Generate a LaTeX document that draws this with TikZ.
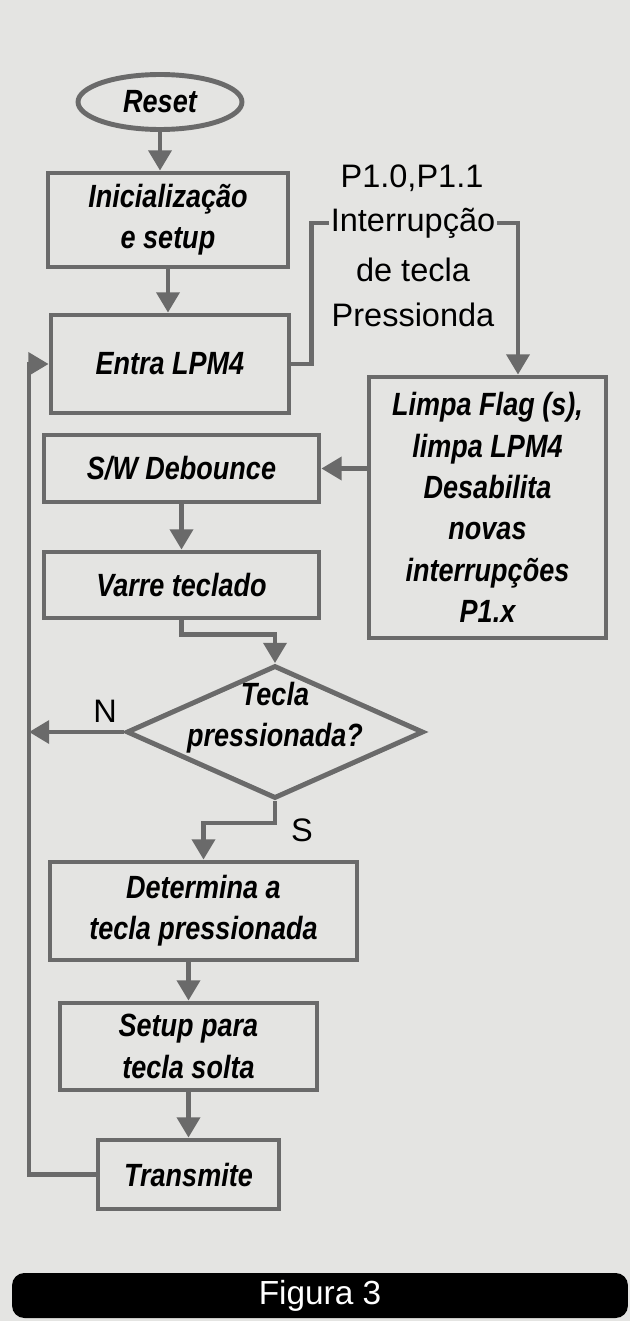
\documentclass[tikz,border=0pt]{standalone}
\usepackage{fontspec}
\setmainfont{Liberation Sans}
\newfontfamily\caixafam{Liberation Sans}[FakeStretch=0.84]
\usepackage{xcolor}
\usepackage{tikz}
\usetikzlibrary{arrows.meta}
\usetikzlibrary{shapes.geometric, calc}

\definecolor{papel}{HTML}{E4E4E2}
\definecolor{traco}{HTML}{6A6A6A}
\newcommand{\caixafont}{\caixafam\fontsize{18.3}{23.5}\selectfont\bfseries\itshape}
\newcommand{\rotulofont}{\fontsize{18.5}{25.6}\selectfont}

\tikzset{
  caixa/.style={draw=traco, line width=2.8pt, rectangle, align=center, font=\caixafont, inner sep=0pt},
  seta/.style={draw=traco, line width=2.4pt, -{Triangle[length=11.5pt,width=13pt]}},
  linha/.style={draw=traco, line width=2.4pt},
  rotulo/.style={font=\rotulofont, inner sep=1pt, align=center},
}

\begin{document}
\begin{tikzpicture}[x=0.02cm, y=-0.02cm]
  \fill[papel] (0,0) rectangle (630,1321);

  % caixas do fluxo
  \node[caixa, ellipse, minimum width=3.28cm, minimum height=1.1cm] (reset) at (160,102) {Reset};
  \node[caixa, minimum width=4.8cm, minimum height=1.88cm] (init) at (168,220) {Inicialização\\e setup};
  \node[caixa, minimum width=4.76cm, minimum height=1.96cm] (entra) at (170,364) {Entra LPM4};
  \node[caixa, minimum width=4.74cm, minimum height=5.22cm] (limpa) at (487.5,507.5)
    {Limpa Flag (s),\\limpa LPM4\\Desabilita\\novas\\interrupções\\P1.x};
  \node[caixa, minimum width=5.5cm, minimum height=1.34cm] (sw) at (181.5,468.5) {S/W Debounce};
  \node[caixa, minimum width=5.5cm, minimum height=1.32cm] (varre) at (181.5,585) {Varre teclado};
  \node[caixa, diamond, minimum width=5.94cm, minimum height=2.66cm,
    label={[font=\caixafont, align=center, yshift=8pt]center:Tecla\\pressionada?}] (tecla) at (275,732) {};
  \node[caixa, minimum width=6.14cm, minimum height=1.96cm] (det) at (203.5,911) {Determina a\\tecla pressionada};
  \node[caixa, minimum width=5.14cm, minimum height=1.74cm] (setup) at (188.5,1046.5) {Setup para\\tecla solta};
  \node[caixa, minimum width=3.62cm, minimum height=1.38cm] (trans) at (188.5,1174.5) {Transmite};

  % interrupcao
  \node[rotulo] (porta) at (412,178) {P1.0,P1.1};
  \node[rotulo] (irq) at (413,223) {Interrupção};
  \node[rotulo] (pressao) at (413,292.5) {de tecla\\Pressionda};

  \coordinate (volta) at (29,364);

  \draw[seta] (reset.south) -- (reset.south |- init.north);
  \draw[seta] (init.south) -- (init.south |- entra.north);
  \draw[linha] (entra.east) -- ++(20,0) |- (irq.west);
  \draw[seta] (irq.east) -| ($(limpa.north)+(30.5,0)$);
  \draw[seta] (limpa.west |- sw.east) -- (sw.east);
  \draw[seta] (sw) -- (varre);
  \draw[seta] (varre.south) -- ++(0,14) -| (tecla.north);
  \draw[seta] (tecla.west) -- (tecla.west -| volta) node[pos=0.2, above=3pt, rotulo] {N};
  \draw[seta] (tecla.south) -- ++(0,22) node[right=7pt, yshift=-4pt, rotulo] {S} -| (det.north);
  \draw[seta] (setup.north |- det.south) -- (setup.north);
  \draw[seta] (setup) -- (trans);
  \draw[seta] (trans.west) -| (volta) -- (entra.west);

  \node[fill=black, rounded corners=7pt, minimum width=12.32cm, minimum height=0.9cm,
    text=white, font=\fontsize{19}{22}\selectfont] (figura) at (320,1295.5) {Figura 3};
\end{tikzpicture}
\end{document}
